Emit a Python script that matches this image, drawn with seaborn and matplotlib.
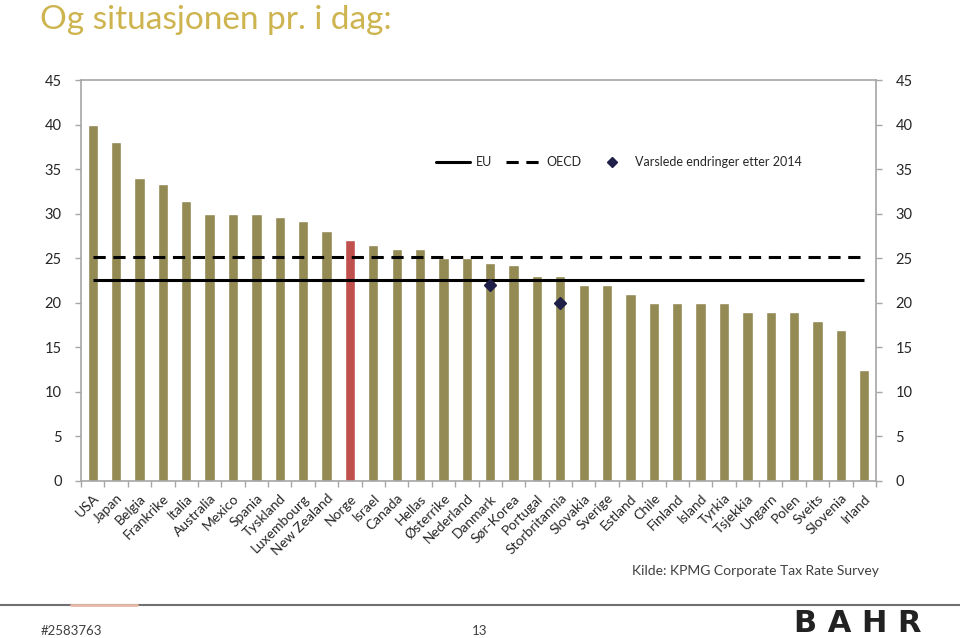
import matplotlib
matplotlib.use("Agg")
import matplotlib.pyplot as plt
from matplotlib.lines import Line2D
import seaborn as sns
import pandas as pd

land = ["USA", "Japan", "Belgia", "Frankrike", "Italia", "Australia", "Mexico",
        "Spania", "Tyskland", "Luxembourg", "New Zealand", "Norge", "Israel",
        "Canada", "Hellas", "Østerrike", "Nederland", "Danmark", "Sør-Korea",
        "Portugal", "Storbritannia", "Slovakia", "Sverige", "Estland", "Chile",
        "Finland", "Island", "Tyrkia", "Tsjekkia", "Ungarn", "Polen", "Sveits",
        "Slovenia", "Irland"]
skatt = [40, 38, 34, 33.3, 31.4, 30, 30, 30, 29.65, 29.2, 28, 27, 26.5,
         26, 26, 25, 25, 24.5, 24.2, 23, 23, 22, 22, 21, 20,
         20, 20, 20, 19, 19, 19, 17.9, 17, 12.5]
eu_snitt = 22.5
oecd_snitt = 25.1
endring_land = ["Danmark", "Storbritannia"]
endring_verdi = [22, 20]

oliven = "#948A54"
rod = "#C0504D"
df = pd.DataFrame({"land": land, "skatt": skatt})
farger = [rod if l == "Norge" else oliven for l in land]

sns.set_theme(style="white")
plt.rcParams["font.family"] = ["Lato", "DejaVu Sans"]

fig = plt.figure(figsize=(9.6, 6.38), dpi=100)
ax = fig.add_axes([0.0844, 0.2461, 0.8281, 0.6285])

sns.barplot(data=df, x="land", y="skatt", hue="land", palette=farger,
            legend=False, width=0.44, saturation=1, ax=ax)

ax.hlines(eu_snitt, 0, len(land) - 1, color="black", lw=2.2)
ax.hlines(oecd_snitt, 0, len(land) - 1, color="black", lw=2.2,
          linestyles=(0, (4, 2.5)))
pos = [land.index(l) for l in endring_land]
ax.plot(pos, endring_verdi, ls="none", marker="D", ms=6,
        color="#1F1F4A", markeredgecolor="#1F1F4A")

ax.set_xlim(-0.5, len(land) - 0.5)
ax.set_ylim(0, 45)
ax.set_yticks(range(0, 46, 5))
ax.set_xlabel("")
ax.set_ylabel("")

grey = "#A6A6A6"
for s in ax.spines.values():
    s.set_color(grey)
    s.set_linewidth(1.2)

ax.tick_params(axis="y", which="both", left=True, right=True,
               labelleft=True, labelright=True, length=4, width=1,
               color=grey, labelsize=10.5, pad=10, direction="out")
ax.set_xticks([i - 0.5 for i in range(len(land) + 1)], minor=True)
ax.tick_params(axis="x", which="minor", bottom=True, length=4, width=1,
               color=grey)
ax.tick_params(axis="x", which="major", length=0, pad=8)
ax.set_xticklabels(land, rotation=45, ha="right", rotation_mode="anchor",
                   fontsize=10)

handles = [Line2D([], [], color="black", lw=2.2),
           Line2D([], [], color="black", lw=2.2, ls=(0, (4, 2.5))),
           Line2D([], [], ls="none", marker="D", ms=5, color="#1F1F4A")]
ax.legend(handles, ["EU", "OECD", "Varslede endringer etter 2014"],
          loc="center", bbox_to_anchor=(0.677, 0.795), ncol=3, frameon=False,
          fontsize=9, handlelength=2.7, columnspacing=1.1, handletextpad=0.5)

fig.text(0.042, 0.968, "Og situasjonen pr. i dag:", fontsize=24,
         color="#CDB44E", va="center", ha="left")
fig.text(0.915, 0.105, "Kilde: KPMG Corporate Tax Rate Survey", fontsize=10,
         color="#404040", ha="right", va="center")
fig.add_artist(Line2D([0, 1], [0.052, 0.052], color="#707070", lw=1.5,
                      transform=fig.transFigure))
fig.add_artist(Line2D([0.074, 0.143], [0.052, 0.052], color="#E8B9A4", lw=2,
                      transform=fig.transFigure))
fig.text(0.042, 0.002, "#2583763", fontsize=9.5, color="#404040", va="bottom")
fig.text(0.5, 0.002, "13", fontsize=9.5, color="#404040", va="bottom",
         ha="center")
fig.text(0.96, 0.0, "B A H R", fontsize=22, color="#222222", va="bottom",
         ha="right", family="DejaVu Sans", fontweight="bold")

fig.savefig("out.png", dpi=100)
